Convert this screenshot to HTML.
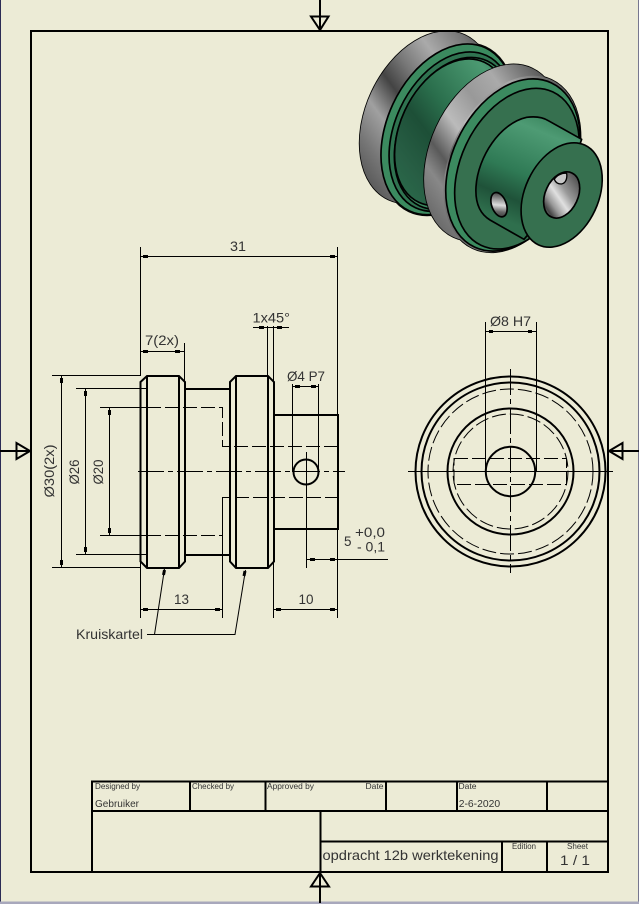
<!DOCTYPE html>
<html><head><meta charset="utf-8"><style>
html,body{margin:0;padding:0;background:#ecebd6}
svg{display:block}
text{font-family:"Liberation Sans",sans-serif;fill:#333}
.d{font-size:14px}
.s{font-size:8.5px}
.t{stroke:#000;stroke-width:1;fill:none}
.k{stroke:#000;stroke-width:2;fill:none}
.h{stroke:#000;stroke-width:1;fill:none;stroke-dasharray:14 4}
.c{stroke:#000;stroke-width:1;fill:none;stroke-dasharray:26 4 5 4}
</style></head><body>
<svg width="639" height="904" viewBox="0 0 639 904" xmlns="http://www.w3.org/2000/svg">
<defs>
<linearGradient id="g1" gradientUnits="userSpaceOnUse" x1="390" y1="24" x2="130" y2="500">
<stop offset="0" stop-color="#555"/><stop offset=".08" stop-color="#777"/><stop offset=".26" stop-color="#aaa"/><stop offset=".42" stop-color="#777"/><stop offset=".55" stop-color="#444"/><stop offset=".7" stop-color="#a0a0a0"/><stop offset=".85" stop-color="#777"/><stop offset="1" stop-color="#555"/>
</linearGradient>
<linearGradient id="g2" gradientUnits="userSpaceOnUse" x1="640" y1="162" x2="380" y2="638">
<stop offset="0" stop-color="#555"/><stop offset=".1" stop-color="#777"/><stop offset=".24" stop-color="#aaa"/><stop offset=".4" stop-color="#999"/><stop offset=".57" stop-color="#bbb"/><stop offset=".73" stop-color="#5a5a5a"/><stop offset=".83" stop-color="#888"/><stop offset="1" stop-color="#666"/>
</linearGradient>
<linearGradient id="n1" gradientUnits="userSpaceOnUse" x1="430" y1="90" x2="210" y2="510">
<stop offset="0" stop-color="#3c8760"/><stop offset=".09" stop-color="#4c9a72"/><stop offset=".44" stop-color="#2a6e4c"/><stop offset=".62" stop-color="#1d4f37"/><stop offset=".85" stop-color="#285f45"/><stop offset="1" stop-color="#2a6a4a"/>
</linearGradient>
<linearGradient id="n2" gradientUnits="userSpaceOnUse" x1="600" y1="250" x2="470" y2="560">
<stop offset="0" stop-color="#3c8760"/><stop offset=".15" stop-color="#4e9b74"/><stop offset=".56" stop-color="#2f7a55"/><stop offset=".8" stop-color="#1f5239"/><stop offset="1" stop-color="#2f6f4d"/>
</linearGradient>
<linearGradient id="h1" gradientUnits="userSpaceOnUse" x1="700" y1="440" x2="630" y2="560">
<stop offset="0" stop-color="#555"/><stop offset=".35" stop-color="#999"/><stop offset=".55" stop-color="#e0e0e0"/><stop offset=".75" stop-color="#999"/><stop offset=".9" stop-color="#444"/><stop offset="1" stop-color="#777"/>
</linearGradient>
<linearGradient id="h2" gradientUnits="userSpaceOnUse" x1="490" y1="495" x2="462" y2="555">
<stop offset="0" stop-color="#555"/><stop offset=".5" stop-color="#ddd"/><stop offset=".8" stop-color="#666"/><stop offset="1" stop-color="#444"/>
</linearGradient>
</defs>

<rect width="639" height="904" fill="#ecebd6"/>
<rect x="0" y="0" width="1" height="904" fill="#2b2b55"/>
<rect x="638" y="0" width="1" height="904" fill="#77778f"/>
<rect x="0" y="901.5" width="639" height="2.5" fill="#a8a8bc"/>

<!-- 3D view -->
<g transform="translate(340,30) scale(.33333)" stroke="#000" stroke-width="5" stroke-linejoin="round">
<clipPath id="cp"><rect x="0" y="3" width="804" height="700"/></clipPath>
<g clip-path="url(#cp)">
<g fill="url(#g1)">
<ellipse cx="260" cy="262" rx="182" ry="272" transform="rotate(25 260 262)"/>
<ellipse cx="322" cy="298" rx="182" ry="272" transform="rotate(25 322 298)"/>
<g stroke="none"><ellipse cx="260" cy="262" rx="182" ry="272" transform="rotate(25 260 262)"/>
<ellipse cx="322" cy="298" rx="182" ry="272" transform="rotate(25 322 298)"/>
<polygon points="375,40 440,75 205,525 145,490"/></g>
</g>
<ellipse cx="322" cy="298" rx="180" ry="270" transform="rotate(25 322 298)" fill="#3b8a5f"/>
<ellipse cx="333" cy="305" rx="168" ry="252" transform="rotate(25 333 305)" fill="#2f7350"/>
<ellipse cx="340" cy="310" rx="160" ry="240" transform="rotate(25 340 310)" fill="#3b8a5f"/>
<ellipse cx="335" cy="307" rx="155" ry="232" transform="rotate(25 335 307)" fill="url(#n1)"/>
<g fill="url(#g2)">
<ellipse cx="458" cy="368" rx="186" ry="279" transform="rotate(25 458 368)"/>
<ellipse cx="516" cy="402" rx="186" ry="279" transform="rotate(25 516 402)"/>
<g stroke="none"><ellipse cx="458" cy="368" rx="186" ry="279" transform="rotate(25 458 368)"/>
<ellipse cx="516" cy="402" rx="186" ry="279" transform="rotate(25 516 402)"/>
<polygon points="575,146 630,178 400,640 345,610"/></g>
</g>
<ellipse cx="519" cy="405" rx="183" ry="272" transform="rotate(25 519 405)" fill="#3b8a5f"/>
<ellipse cx="531" cy="416" rx="169" ry="254" transform="rotate(25 531 416)" fill="#36704f"/>
<path d="M560 262 C590 258 612 264 625 272 L725 328 L665 495 L552 628 L450 570 C420 552 405 520 408 470 C414 380 480 280 560 262 Z" fill="url(#n2)"/>
<ellipse cx="665" cy="495" rx="110" ry="165" transform="rotate(25 665 495)" fill="#36704f"/>
<ellipse cx="665" cy="495" rx="49" ry="73" transform="rotate(25 665 495)" fill="url(#h1)"/>
<path d="M643 448 C650 435 668 428 680 430 C682 445 678 460 664 462 C655 462 647 458 643 448 Z" fill="#c8c8c8" stroke-width="4"/>
<ellipse cx="477" cy="524" rx="22" ry="38" transform="rotate(-20 477 524)" fill="url(#h2)"/>
</g>
</g>

<!-- frame -->
<rect x="31" y="31" width="577" height="841" class="k"/>

<!-- section markers -->
<path d="M320 0V31M311 16.500H328.500L320 30Z" class="k"/>
<path d="M320 903V872M311 886.500H329L320 873Z" class="k"/>
<path d="M0 451H31M16.500 443V459L30 451Z" class="k"/>
<path d="M639 451H608M622.500 443V459L609 451Z" class="k"/>

<!-- main view thick -->
<path d="M140.500 382L147 376H179L185 382V561.500L179 568H147L140.500 561.500Z M147 376V568 M179 376V568" class="k"/>
<path d="M230 382L236 376H268L274 382V561.500L268 568H236L230 561.500Z M236 376V568 M268 376V568" class="k"/>
<path d="M185 389H230 M185 555H230 M274 415H338V529H274" class="k"/>
<circle cx="306" cy="472" r="12.500" class="k"/>

<!-- hidden -->
<path d="M147 407.500H222.500V446.500H338" class="h"/>
<path d="M147 535.500H222.500V497.500H338" class="h"/>

<!-- centre -->
<path d="M138 471.500H345" class="c"/>
<path d="M306.500 452V568" class="t"/>

<!-- extension & dims -->
<g class="t">
<path d="M140.500 247V376 M337.500 247V415 M140.500 256.500H337.500"/>
<path d="M140.500 351.500H184.500 M184.500 343V382"/>
<path d="M52 375.500H140 M52 567.500H140 M61.500 375.500V567.500"/>
<path d="M76 388.500H147 M76 554.500H147 M85.500 388.500V554.500"/>
<path d="M100 407.500H147 M100 535.500H147 M109.500 407.500V535.500"/>
<path d="M140.500 562V618 M222.500 497V618 M140.500 609.500H222.500"/>
<path d="M273.500 562V618 M337.500 529V618 M273.500 609.500H337.500"/>
<path d="M306.500 559.500H388"/>
<path d="M253 327.500H289 M267.500 326V376 M273.500 326V382"/>
<path d="M292.500 384V472 M318.500 384V472 M292.500 386.500H318.500"/>
<path d="M147 634.500H235 L245.500 570 M154.500 634.500L164.500 569"/>
</g>
<path stroke="#000" stroke-width="3" fill="none" d="M143 256.500h5M330 256.500h5M143 351.500h5M175 351.500h5M61.500 378v5M61.500 560v5M85.500 391v5M85.500 547v5M109.500 410v5M109.500 528v5M143 609.500h5M215 609.500h5M276 609.500h5M330 609.500h5M310 559.500h5M330 559.500h5M259 327.500h5M277 327.500h5M295 386.500h5M311 386.500h5M489 331.500h4M528 331.500h4M245 571l-1 5M164.500 570l-1 5"/>

<!-- right view -->
<g>
<circle cx="510.500" cy="471.500" r="95" class="k"/>
<circle cx="510.500" cy="471.500" r="89" class="k"/>
<circle cx="510.500" cy="471.500" r="82.500" class="h" stroke-dasharray="14 3"/>
<circle cx="510.500" cy="471.500" r="63" class="k"/>
<circle cx="510.500" cy="471.500" r="57.500" class="h" stroke-dasharray="14 3"/>
<circle cx="510.500" cy="471.500" r="24.700" class="k"/>
<path d="M454 458.500H566.500V484.500H454Z" class="h" stroke-dasharray="14 4"/>
<path d="M408 471.500H613" class="t"/>
<path d="M510.500 369V573" class="c"/>
<path d="M485.500 322V472 M536.500 322V472 M485.500 331.500H536.500" class="t"/>
</g>

<!-- dim text -->
<text class="d" x="230" y="251" textLength="16" lengthAdjust="spacingAndGlyphs">31</text>
<text class="d" x="145" y="345" textLength="34" lengthAdjust="spacingAndGlyphs">7(2x)</text>
<text class="d" x="252.500" y="322.500" textLength="37.500" lengthAdjust="spacingAndGlyphs">1x45°</text>
<text class="d" x="287" y="381" textLength="38" lengthAdjust="spacingAndGlyphs">Ø4 P7</text>
<text class="d" x="174" y="604" textLength="15" lengthAdjust="spacingAndGlyphs">13</text>
<text class="d" x="298.500" y="604" textLength="15" lengthAdjust="spacingAndGlyphs">10</text>
<text class="d" x="344" y="546" textLength="7.500" lengthAdjust="spacingAndGlyphs">5</text>
<text class="d" x="355" y="537" textLength="30" lengthAdjust="spacingAndGlyphs">+0,0</text>
<text class="d" x="357" y="551.500" textLength="28" lengthAdjust="spacingAndGlyphs">- 0,1</text>
<text class="d" x="490" y="326" textLength="41" lengthAdjust="spacingAndGlyphs">Ø8 H7</text>
<text class="d" x="76" y="639" textLength="67" lengthAdjust="spacingAndGlyphs">Kruiskartel</text>
<text class="d" transform="translate(54,497.500) rotate(-90)" textLength="53" lengthAdjust="spacingAndGlyphs">Ø30(2x)</text>
<text class="d" transform="translate(79,484.500) rotate(-90)" textLength="25" lengthAdjust="spacingAndGlyphs">Ø26</text>
<text class="d" transform="translate(103,484.500) rotate(-90)" textLength="25" lengthAdjust="spacingAndGlyphs">Ø20</text>

<!-- title block -->
<path d="M92 872V781.500H608 M92 811H608 M190 781V811 M265.500 781V811 M386 781V811 M457 781V811 M547 781V811 M320.500 811V872 M320 841.500H608 M502 841V872 M547 841V872" class="k"/>
<text class="s" x="95" y="789" textLength="45" lengthAdjust="spacingAndGlyphs">Designed by</text>
<text class="s" x="192" y="789" textLength="42" lengthAdjust="spacingAndGlyphs">Checked by</text>
<text class="s" x="267" y="789" textLength="47" lengthAdjust="spacingAndGlyphs">Approved by</text>
<text class="s" x="365.500" y="789" textLength="18" lengthAdjust="spacingAndGlyphs">Date</text>
<text class="s" x="458.500" y="789" textLength="18" lengthAdjust="spacingAndGlyphs">Date</text>
<text x="95" y="807" font-size="10.500" textLength="44" lengthAdjust="spacingAndGlyphs">Gebruiker</text>
<text x="458.700" y="807" font-size="10.500" textLength="41.500" lengthAdjust="spacingAndGlyphs">2-6-2020</text>
<text x="322.500" y="860" font-size="14" textLength="176" lengthAdjust="spacingAndGlyphs">opdracht 12b werktekening</text>
<text class="s" x="512" y="849" textLength="24" lengthAdjust="spacingAndGlyphs">Edition</text>
<text class="s" x="567" y="849" textLength="21" lengthAdjust="spacingAndGlyphs">Sheet</text>
<text x="560" y="865" font-size="14" textLength="30" lengthAdjust="spacingAndGlyphs">1 / 1</text>
</svg>
</body></html>
